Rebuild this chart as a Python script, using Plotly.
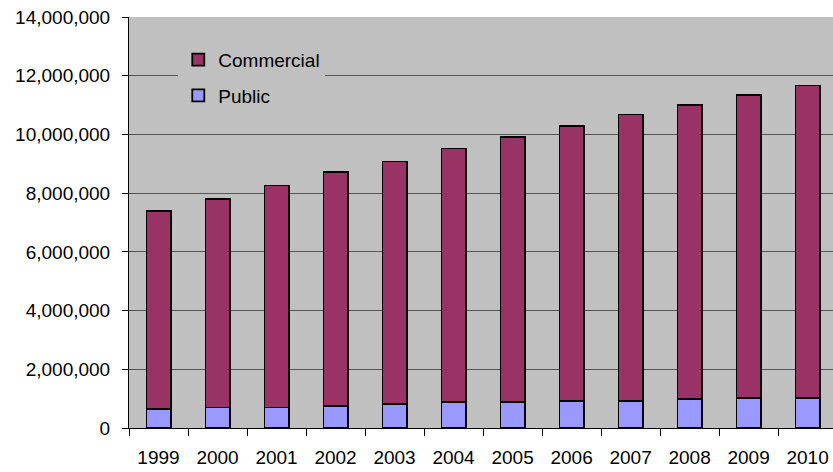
import plotly.graph_objects as go

# Yearly volumes, split into public and commercial components
years = ["1999", "2000", "2001", "2002", "2003", "2004",
         "2005", "2006", "2007", "2008", "2009", "2010"]
public = [660000, 700000, 700000, 760000, 830000, 885000,
          885000, 930000, 930000, 990000, 1030000, 1030000]
commercial = [6720000, 7110000, 7560000, 7950000, 8250000, 8635000,
              9025000, 9370000, 9750000, 10020000, 10310000, 10640000]

FONT = "Arial, Liberation Sans, sans-serif"
outline = dict(color="black", width=1.8)

fig = go.Figure()
fig.add_trace(go.Bar(x=years, y=public, name="Public",
                     marker=dict(color="#9999FF", line=outline),
                     width=0.41, legendgroup="p", legendrank=2))
fig.add_trace(go.Bar(x=years, y=commercial, name="Commercial",
                     marker=dict(color="#993366", line=outline),
                     width=0.41, legendgroup="c", legendrank=1))

fig.update_layout(
    width=833, height=472,
    barmode="stack",
    margin=dict(l=129, r=0, t=17, b=44),
    paper_bgcolor="white",
    plot_bgcolor="#C0C0C0",
    font=dict(family=FONT, size=19, color="black"),
    showlegend=True,
    legend=dict(x=0.07, y=0.942, xanchor="left", yanchor="top",
                bgcolor="#C0C0C0", traceorder="grouped",
                tracegroupgap=8, font=dict(size=19),
                itemwidth=30),
    xaxis=dict(type="category", range=[-0.5, 11.43],
               showline=True, linecolor="black", linewidth=1,
               ticks="outside", tickson="boundaries", ticklen=7,
               tickcolor="black", showgrid=False,
               ticklabelstandoff=12),
    yaxis=dict(range=[0, 14000000], dtick=2000000, tickformat=",d",
               showline=True, linecolor="black", linewidth=1,
               ticks="outside", ticklen=6, tickcolor="black",
               showgrid=True, gridcolor="#555555", gridwidth=1,
               zeroline=False, ticklabelstandoff=8),
)

fig.write_html("out.html", config={"displayModeBar": False})
